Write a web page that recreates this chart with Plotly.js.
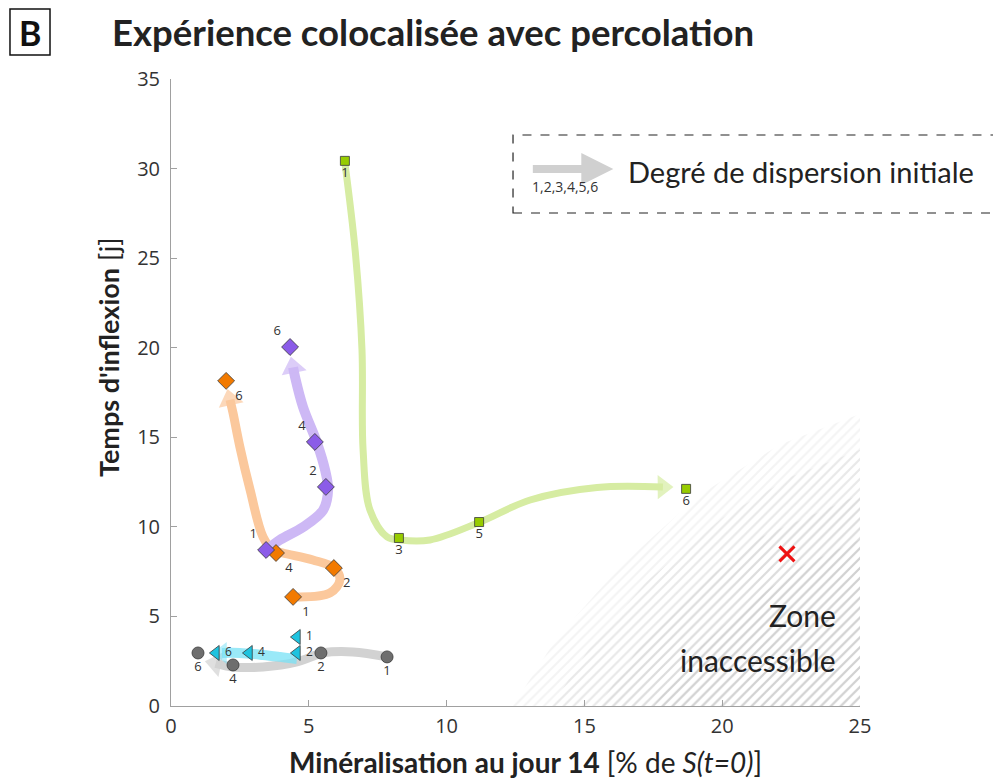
<!DOCTYPE html>
<html><head><meta charset="utf-8">
<script src="https://cdn.plot.ly/plotly-3.0.1.min.js"></script>
<style>body{margin:0;background:#fff}#chart{width:993px;height:780px}</style>
</head><body><div id="chart"></div>
<script>
// ---- measured points (x: mineralisation %, y: inflexion time j) ----
const greenX = [6.31, 8.27, 11.18, 18.69];
const greenY = [30.43, 9.38, 10.27, 12.12];
const greenLbl = ['1', '3', '5', '6'];

const orangeX = [4.43, 5.91, 3.81, 2.00];
const orangeY = [6.09, 7.70, 8.54, 18.15];
const orangeLbl = ['1', '2', '4', '6'];

const purpleX = [3.45, 5.62, 5.22, 4.32];
const purpleY = [8.71, 12.23, 14.74, 20.04];
const purpleLbl = ['1', '2', '4', '6'];

const cyanX = [4.57, 4.57, 2.83, 1.63];
const cyanY = [3.85, 2.96, 2.96, 2.96];
const cyanLbl = ['1', '2', '4', '6'];

const grayX = [7.84, 5.44, 2.25, 0.98];
const grayY = [2.74, 2.96, 2.29, 2.96];
const grayLbl = ['1', '2', '4', '6'];

const crossX = [22.35];
const crossY = [8.49];

// ---- trajectory guide paths ----
const greenPathX = [6.31, 6.68, 6.93, 6.97, 7.22, 7.84, 8.31, 9.40, 11.21, 13.03, 15.46, 17.85];
const greenPathY = [30.32, 25.46, 19.88, 14.29, 10.94, 9.44, 9.27, 9.27, 10.27, 11.50, 12.20, 12.22];
const orangePathX = [4.61, 5.77, 6.13, 5.91, 5.15, 4.06, 3.70, 3.34, 2.87, 2.50, 2.25, 2.14];
const orangePathY = [6.09, 6.31, 7.04, 7.71, 8.15, 8.54, 8.71, 9.44, 12.06, 14.46, 16.36, 17.1];
const purplePathX = [3.48, 3.95, 4.79, 5.52, 5.70, 5.59, 5.30, 4.79, 4.50, 4.43];
const purplePathY = [8.71, 9.27, 9.99, 10.94, 12.06, 13.18, 14.68, 16.69, 18.37, 18.9];
const grayPathX = [7.84, 6.60, 5.52, 4.57, 3.34, 2.25, 1.62];
const grayPathY = [2.74, 3.02, 2.96, 2.46, 2.18, 2.18, 2.38];
const cyanPathX = [4.57, 3.96, 3.34, 2.50, 1.85];
const cyanPathY = [2.62, 2.74, 2.85, 2.96, 2.96];

// ---- inaccessible zone boundaries (fading hatch, outer to inner) ----
const zone1X = [12.4, 14.0, 16.3, 19.2, 22.1, 25, 25, 12.4];
const zone1Y = [0, 3.8, 7.8, 11.8, 14.6, 16.3, 0, 0];
const zone2X = [13.8, 15.3, 17.3, 20.0, 22.5, 25, 25, 13.8];
const zone2Y = [0, 3.5, 7.0, 10.5, 12.8, 14.3, 0, 0];
const zone3X = [15.5, 17.0, 19.0, 21.5, 25, 25, 15.5];
const zone3Y = [0, 3.3, 6.6, 9.5, 11.8, 0, 0];
const zone4X = [17.5, 19.0, 21.0, 23.0, 25, 25, 17.5];
const zone4Y = [0, 3.0, 5.8, 7.9, 9.3, 0, 0];

const TXT = {family: 'Open Sans, sans-serif', size: 13, color: '#333'};
const traces = [];

function zone(x, y, op) {
  traces.push({x: x, y: y, type: 'scatter', mode: 'none', fill: 'toself',
    fillcolor: 'rgba(0,0,0,0)', hoverinfo: 'skip',
    fillpattern: {shape: '/', fgcolor: 'rgba(150,150,150,' + op + ')', bgcolor: 'rgba(255,255,255,0)', size: 7, solidity: 0.3}});
}
zone(zone1X, zone1Y, 0.11);
zone(zone2X, zone2Y, 0.13);
zone(zone3X, zone3Y, 0.15);
zone(zone4X, zone4Y, 0.17);

function path(px, py, color, w, head) {
  traces.push({x: px, y: py, type: 'scatter', mode: 'lines',
    line: {color: color, width: w, shape: 'spline', smoothing: 1}, hoverinfo: 'skip'});
  const n = px.length;
  traces.push({x: [px[n - 2], px[n - 1]], y: [py[n - 2], py[n - 1]], type: 'scatter', mode: 'markers',
    marker: {symbol: 'triangle-up', angleref: 'previous', size: [0, head], color: color, line: {width: 0}},
    hoverinfo: 'skip'});
}
path(grayPathX, grayPathY, '#d2d2d2', 9, 22);
path(cyanPathX, cyanPathY, 'rgba(120,225,245,0.75)', 10, 19);
path(orangePathX, orangePathY, '#fbc89c', 9, 22);
path(purplePathX, purplePathY, '#cdb8f5', 10, 22);
path(greenPathX, greenPathY, '#d6eca2', 7, 21);

function pts(x, y, lbl, sym, size, color, tpos, fsize) {
  traces.push({x: x, y: y, text: lbl, type: 'scatter', mode: 'markers+text',
    textposition: tpos, textfont: Object.assign({}, TXT, {size: fsize || TXT.size}), cliponaxis: false,
    marker: {symbol: sym, size: size, color: color, line: {color: '#3a3a3a', width: 0.8}}});
}
pts(grayX, grayY, grayLbl, 'circle', 12, '#6e6e6e', 'bottom center');
pts(cyanX, cyanY, cyanLbl, 'triangle-left', 13, '#1ec3df', 'middle right', 12);
pts(orangeX, orangeY, orangeLbl, 'diamond', 13, '#f27a00', 'bottom right');
pts(purpleX, purpleY, purpleLbl, 'diamond', 13, '#8b5ce8', 'top left');
pts(greenX, greenY, greenLbl, 'square', 9, '#97cc00', 'bottom center');

traces.push({x: crossX, y: crossY, type: 'scatter', mode: 'markers',
  marker: {symbol: 'x-thin', size: 15, line: {color: '#ee1111', width: 3}}});

const axisCommon = {showgrid: false, zeroline: false, showline: true, linecolor: '#a0a0a0', linewidth: 1,
  ticks: 'inside', ticklen: 6, tickcolor: '#a0a0a0', tickfont: {family: 'Open Sans, sans-serif', size: 20, color: '#333'}};

const layout = {
  width: 993, height: 780, showlegend: false,
  paper_bgcolor: '#fff', plot_bgcolor: '#fff',
  margin: {l: 171, r: 133, t: 79, b: 74},
  title: {text: '<b>Expérience colocalisée avec percolation</b>', xref: 'container', yref: 'container',
    x: 0.1128, xanchor: 'left', y: 0.958, yanchor: 'middle',
    font: {family: 'Lato, sans-serif', size: 36.5, color: '#222'}},
  xaxis: Object.assign({}, axisCommon, {range: [0, 25], tickvals: [0, 5, 10, 15, 20, 25], ticklabelstandoff: 2}),
  yaxis: Object.assign({}, axisCommon, {range: [0, 35], tickvals: [0, 5, 10, 15, 20, 25, 30, 35], ticklabelstandoff: 6}),
  shapes: [
    {type: 'rect', xref: 'paper', yref: 'paper', x0: -0.2337, x1: -0.1756, y0: 1.0383, y1: 1.1116,
      line: {color: '#111', width: 1.5}},
    {type: 'rect', xref: 'paper', yref: 'paper', x0: 0.4964, x1: 1.25, y0: 0.7863, y1: 0.9107,
      line: {color: '#222', width: 1.2, dash: 'dash'}}
  ],
  annotations: [
    {text: '<b>B</b>', xref: 'paper', yref: 'paper', x: -0.2046, y: 1.074, xanchor: 'center', yanchor: 'middle',
      showarrow: false, font: {family: 'Lato, sans-serif', size: 34, color: '#111'}},
    {text: '<b>Minéralisation au jour 14</b> [% de <i>S(t=0)</i>]', xref: 'paper', yref: 'paper',
      x: 0.5138, y: -0.0893, xanchor: 'center', yanchor: 'middle', showarrow: false,
      font: {family: 'Lato, sans-serif', size: 28, color: '#222'}},
    {text: '<b>Temps d\'inflexion</b> [j]', xref: 'paper', yref: 'paper', textangle: -90,
      x: -0.0914, y: 0.5566, xanchor: 'center', yanchor: 'middle', showarrow: false,
      font: {family: 'Lato, sans-serif', size: 27, color: '#222'}},
    {text: '', xref: 'paper', yref: 'paper', x: 0.642, y: 0.8565, ax: -82, ay: 0,
      showarrow: true, arrowhead: 2, arrowsize: 0.8, arrowwidth: 8, arrowcolor: '#d0d0d0'},
    {text: '1,2,3,4,5,6', xref: 'paper', yref: 'paper', x: 0.521, y: 0.829, xanchor: 'left', yanchor: 'middle',
      showarrow: false, font: {family: 'Open Sans, sans-serif', size: 14, color: '#333'}},
    {text: 'Degré de dispersion initiale', xref: 'paper', yref: 'paper', x: 0.660, y: 0.853,
      xanchor: 'left', yanchor: 'middle', showarrow: false,
      font: {family: 'Lato, sans-serif', size: 29, color: '#222'}},
    {text: 'Zone', xref: 'x', yref: 'y', x: 24.2, y: 5.08, xanchor: 'right', yanchor: 'middle',
      showarrow: false, font: {family: 'Lato, sans-serif', size: 30, color: '#222'}},
    {text: 'inaccessible', xref: 'x', yref: 'y', x: 24.2, y: 2.57, xanchor: 'right', yanchor: 'middle',
      showarrow: false, font: {family: 'Lato, sans-serif', size: 30, color: '#222'}}
  ]
};

Plotly.newPlot('chart', traces, layout, {staticPlot: true, displayModeBar: false});
</script></body></html>
